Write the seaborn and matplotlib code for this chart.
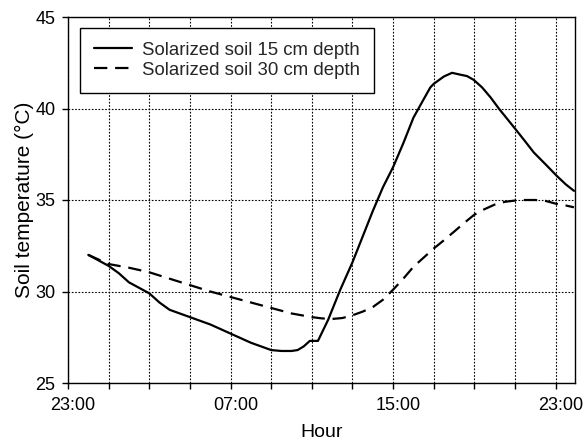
import numpy as np
import pandas as pd
import seaborn as sns
import matplotlib
matplotlib.use("Agg")
import matplotlib.pyplot as plt
from matplotlib.ticker import FixedLocator, FixedFormatter, MultipleLocator
from matplotlib.transforms import ScaledTranslation

# hours since 23:00
hours_15 = [1.0, 1.5, 2.0, 2.5, 3.0, 3.5, 4.0, 4.5, 5.0, 5.5, 6.0, 6.5, 7.0, 7.5,
            8.0, 8.5, 9.0, 9.5, 10.0, 10.5, 11.0, 11.3, 11.6, 11.9, 12.3, 12.8,
            13.4, 14.0, 14.5, 15.0, 15.5, 16.0, 16.5, 17.0, 17.5, 17.83, 18.0,
            18.5, 18.9, 19.3, 19.64, 19.97, 20.38, 20.8, 21.2, 21.6, 22.0,
            22.5, 22.92, 23.5, 24.07, 24.5, 24.9]
temp_15 = [32.0, 31.7, 31.4, 31.0, 30.5, 30.2, 29.9, 29.4, 29.0, 28.8, 28.6, 28.4,
           28.2, 27.95, 27.7, 27.45, 27.2, 27.0, 26.8, 26.75, 26.75, 26.8, 27.0,
           27.3, 27.3, 28.45, 30.1, 31.6, 33.0, 34.4, 35.7, 36.8, 38.1, 39.5,
           40.5, 41.15, 41.35, 41.75, 41.95, 41.85, 41.77, 41.56, 41.15, 40.6,
           40.0, 39.45, 38.9, 38.2, 37.6, 36.95, 36.3, 35.85, 35.5]

hours_30 = [1.0, 2.0, 3.0, 4.0, 5.0, 6.0, 7.0, 8.0, 9.0, 10.0, 11.0, 12.0, 12.5,
            13.0, 13.5, 14.0, 14.5, 15.0, 15.5, 16.0, 16.5, 17.0, 17.5, 18.0,
            18.5, 19.0, 19.5, 20.0, 20.5, 21.0, 21.5, 22.0, 22.5, 23.0, 23.5,
            24.0, 24.5, 24.9]
temp_30 = [32.0, 31.5, 31.3, 31.05, 30.7, 30.35, 30.0, 29.7, 29.4, 29.1, 28.8,
           28.6, 28.53, 28.5, 28.55, 28.7, 28.9, 29.15, 29.55, 30.1, 30.7, 31.35,
           31.85, 32.35, 32.8, 33.27, 33.75, 34.2, 34.5, 34.75, 34.9, 34.97, 35.0,
           35.0, 34.95, 34.8, 34.7, 34.6]

series_names = ["Solarized soil 15 cm depth", "Solarized soil 30 cm depth"]
tick_positions = [0, 8, 16, 24]
tick_labels = ["23:00", "07:00", "15:00", "23:00"]

df = pd.concat([
    pd.DataFrame({"hour": hours_15, "temp": temp_15, "series": series_names[0]}),
    pd.DataFrame({"hour": hours_30, "temp": temp_30, "series": series_names[1]}),
], ignore_index=True)

sns.set_theme(style="ticks")
plt.rcParams["font.family"] = ["Liberation Sans", "DejaVu Sans"]

fig = plt.figure(figsize=(5.87, 4.43), dpi=100)
ax = fig.add_axes([68 / 587, 1 - 383 / 443, (575 - 68) / 587, (383 - 17) / 443])

sns.lineplot(data=df, x="hour", y="temp", style="series", hue="series",
             palette={series_names[0]: "black", series_names[1]: "black"},
             dashes={series_names[0]: "", series_names[1]: (6, 3.5)},
             linewidth=1.6, ax=ax, sort=False)

ax.set_xlim(0, 24.95)
ax.set_ylim(25, 45)
ax.xaxis.set_major_locator(FixedLocator(tick_positions))
ax.xaxis.set_major_formatter(FixedFormatter(tick_labels))
ax.xaxis.set_minor_locator(MultipleLocator(2))
ax.yaxis.set_major_locator(MultipleLocator(5))

ax.grid(True, which="both", axis="x", color="black", linestyle=(0, (1.5, 1.5)), linewidth=0.8)
ax.grid(True, which="major", axis="y", color="black", linestyle=(0, (1.5, 1.5)), linewidth=0.8)
ax.set_axisbelow(True)

for s in ax.spines.values():
    s.set_visible(True)
    s.set_color("black")
    s.set_linewidth(1.0)

ax.tick_params(axis="both", which="both", direction="out", length=4, width=1,
               color="black", labelsize=13, labelcolor="black", pad=5)
ax.tick_params(axis="x", pad=6)

ax.set_xlabel("Hour", fontsize=14, color="black", labelpad=7.5)
ax.set_ylabel("Soil temperature (°C)", fontsize=15, color="black", labelpad=1)

for lab in ax.get_xticklabels():
    lab.set_transform(lab.get_transform() + ScaledTranslation(5 / 100, 0, fig.dpi_scale_trans))

leg = ax.legend(loc="upper left", bbox_to_anchor=((80 - 68) / 507, (383 - 28) / 366),
                borderaxespad=0, fontsize=13.4, frameon=True, fancybox=False,
                edgecolor="black", framealpha=1, handlelength=2.05, handletextpad=0.55,
                labelspacing=0.14, borderpad=0.75, title=None)
leg.get_frame().set_linewidth(1.0)
for line in leg.get_lines():
    line.set_linewidth(1.6)

fig.savefig("out.png", dpi=100)
